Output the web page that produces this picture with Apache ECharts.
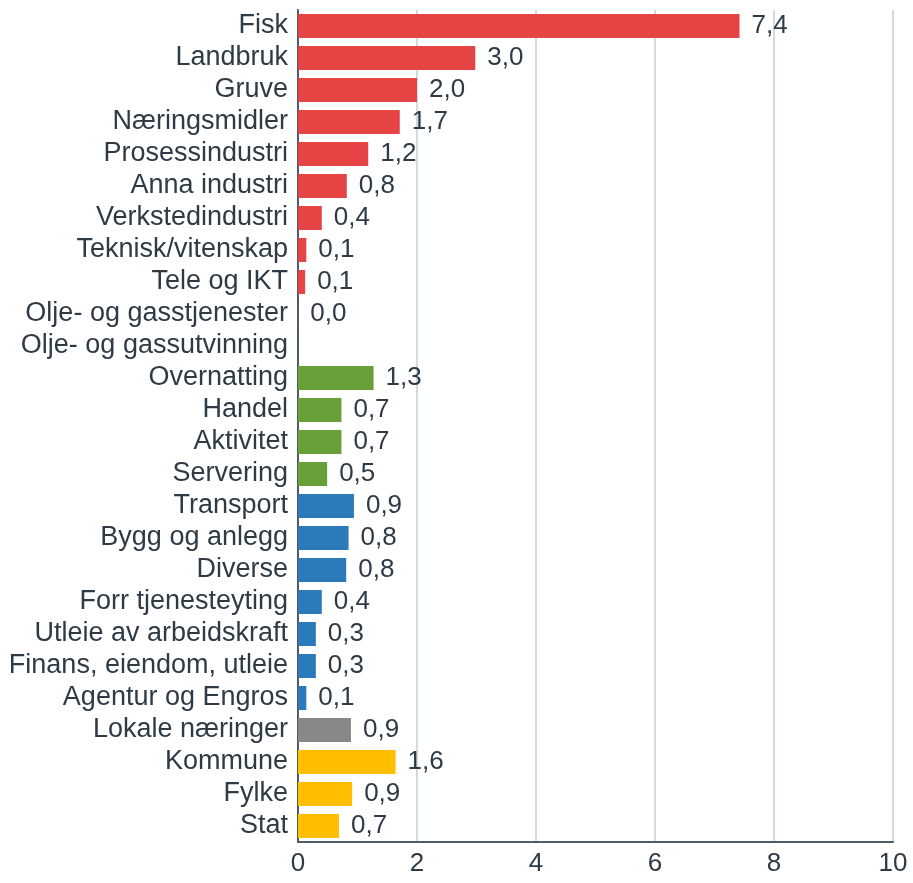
<!DOCTYPE html>
<html>
<head>
<meta charset="utf-8">
<script src="https://cdn.jsdelivr.net/npm/echarts@6/dist/echarts.min.js"></script>
<style>
  html, body { margin: 0; padding: 0; background: #fff; }
  #chart { width: 913px; height: 883px; }
</style>
</head>
<body>
<div id="chart"></div>
<script>
// kategorier, ovanfrå og ned
var categories = [
    'Fisk', 'Landbruk', 'Gruve', 'Næringsmidler', 'Prosessindustri', 'Anna industri',
    'Verkstedindustri', 'Teknisk/vitenskap', 'Tele og IKT', 'Olje- og gasstjenester',
    'Olje- og gassutvinning', 'Overnatting', 'Handel', 'Aktivitet', 'Servering',
    'Transport', 'Bygg og anlegg', 'Diverse', 'Forr tjenesteyting', 'Utleie av arbeidskraft',
    'Finans, eiendom, utleie', 'Agentur og Engros', 'Lokale næringer', 'Kommune', 'Fylke', 'Stat'
];
var values = [
    7.42, 2.98, 2.0, 1.71, 1.18, 0.82,
    0.4, 0.14, 0.12, 0.004,
    null, 1.27, 0.73, 0.73, 0.49,
    0.94, 0.85, 0.81, 0.4, 0.3,
    0.3, 0.14, 0.89, 1.64, 0.91, 0.69
];
// gruppe per kategori: 0 raud, 1 grøn, 2 blå, 3 grå, 4 gul
var groups = [
    0, 0, 0, 0, 0, 0,
    0, 0, 0, 0,
    0, 1, 1, 1, 1,
    2, 2, 2, 2, 2,
    2, 2, 3, 4, 4, 4
];
var groupColors = ['#e64345', '#689f38', '#2b7bba', '#888888', '#ffbf00'];
var xTicks = [0, 2, 4, 6, 8, 10];

var chart = echarts.init(document.getElementById('chart'));

var data = values.map(function (v, i) {
    return { value: v, itemStyle: { color: groupColors[groups[i]] } };
});

var textColor = '#2e3a45';

chart.setOption({
    animation: false,
    textStyle: { fontFamily: '"Liberation Sans", Arial, sans-serif' },
    grid: { left: 298, right: 20, top: 10, bottom: 41, containLabel: false },
    xAxis: {
        type: 'value',
        min: xTicks[0],
        max: xTicks[xTicks.length - 1],
        interval: 2,
        axisLine: { show: true, lineStyle: { color: '#4f5b66', width: 2 } },
        axisTick: { show: false },
        axisLabel: { fontSize: 26, color: textColor, margin: 9 },
        splitLine: { show: true, lineStyle: { color: '#c3ced9', width: 1.5 } }
    },
    yAxis: {
        type: 'category',
        data: categories,
        inverse: true,
        axisLine: { show: true, lineStyle: { color: '#4f5b66', width: 2 } },
        axisTick: { show: false },
        axisLabel: { fontSize: 27, color: textColor, margin: 10, interval: 0 }
    },
    series: [{
        type: 'bar',
        data: data,
        barCategoryGap: '25%',
        label: {
            show: true,
            position: 'right',
            distance: 12,
            fontSize: 26,
            color: textColor,
            formatter: function (p) {
                if (p.value == null) return '';
                return p.value.toFixed(1).replace('.', ',');
            }
        }
    }]
});
</script>
</body>
</html>
